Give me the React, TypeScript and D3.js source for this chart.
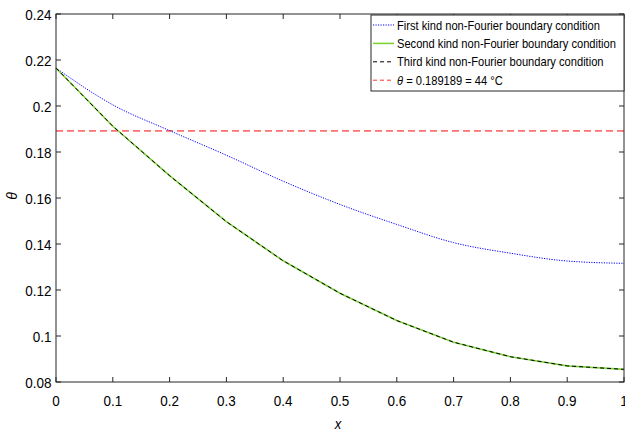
import React from "react";
import * as d3 from "d3";

const xValues = [0, 0.1, 0.2, 0.3, 0.4, 0.5, 0.6, 0.7, 0.8, 0.9, 1.0];
const firstKind = [0.2165, 0.2005, 0.1893, 0.1786, 0.1673, 0.1572, 0.1485, 0.1406, 0.136, 0.1326, 0.1316];
const secondKind = [0.2165, 0.1912, 0.1697, 0.1497, 0.1327, 0.1186, 0.1067, 0.0973, 0.091, 0.087, 0.0855];
const thirdKind = [0.2165, 0.1912, 0.1697, 0.1497, 0.1327, 0.1186, 0.1067, 0.0973, 0.091, 0.087, 0.0855];
const thetaLimit = 0.189189;
const xTicks = [0, 0.1, 0.2, 0.3, 0.4, 0.5, 0.6, 0.7, 0.8, 0.9, 1];
const yTicks = [0.08, 0.1, 0.12, 0.14, 0.16, 0.18, 0.2, 0.22, 0.24];
const legendLabels = [
  "First kind non-Fourier boundary condition",
  "Second kind non-Fourier boundary condition",
  "Third kind non-Fourier boundary condition",
];

const W = 625, H = 433;
const L = 56, R = 624, T = 14, B = 382;
const font = "'Liberation Sans', Arial, sans-serif";
const SX = 0.87;

export default function App() {
  const x = d3.scaleLinear().domain([0, 1]).range([L, R]);
  const y = d3.scaleLinear().domain([0.08, 0.24]).range([B, T]);
  const line = (vals: number[]) =>
    d3.line<number>().x((_, i) => x(xValues[i])).y((v) => y(v))(vals) || "";
  const lineSmooth = (vals: number[]) =>
    d3.line<number>().x((_, i) => x(xValues[i])).y((v) => y(v)).curve(d3.curveMonotoneX)(vals) || "";
  const tk = 5;
  const legX = 371, legY = 15, legW = R - legX, legH = 76;
  const rowY = (i: number) => legY + 10 + i * 18.4;
  const T2 = (px: number, py: number) => `translate(${px},${py}) scale(${SX},1)`;
  return (
    <svg width={W} height={H} style={{ position: "absolute", left: 0, top: 0, background: "#fff" }}>
      <rect x={0} y={0} width={W} height={H} fill="#fff" />
      {/* data */}
      <line x1={x(0)} x2={x(1)} y1={y(thetaLimit)} y2={y(thetaLimit)} stroke="#ff7070" strokeWidth={1.6} strokeDasharray="7,4" />
      <path d={lineSmooth(firstKind)} fill="none" stroke="#0000ff" strokeWidth={1} strokeDasharray="1.2,1.3" />
      <path d={line(secondKind)} fill="none" stroke="#7ed33a" strokeWidth={1.6} />
      <path d={line(thirdKind)} fill="none" stroke="#000" strokeWidth={1} strokeDasharray="4,3" />
      {/* axes box */}
      <rect x={L} y={T} width={R - L} height={B - T} fill="none" stroke="#262626" strokeWidth={1} />
      {xTicks.map((t) => (
        <g key={"x" + t}>
          <line x1={x(t)} x2={x(t)} y1={B} y2={B - tk} stroke="#262626" />
          <line x1={x(t)} x2={x(t)} y1={T} y2={T + tk} stroke="#262626" />
          <text transform={T2(x(t), 405.5)} textAnchor="middle" fontFamily={font} fontSize={15.5} fill="#000">
            {t}
          </text>
        </g>
      ))}
      {yTicks.map((t) => (
        <g key={"y" + t}>
          <line x1={L} x2={L + tk} y1={y(t)} y2={y(t)} stroke="#262626" />
          <line x1={R} x2={R - tk} y1={y(t)} y2={y(t)} stroke="#262626" />
          <text transform={T2(51.5, y(t) + 5.5)} textAnchor="end" fontFamily={font} fontSize={15.5} fill="#000">
            {+t.toFixed(2)}
          </text>
        </g>
      ))}
      <text transform={T2(338, 429)} textAnchor="middle" fontFamily={font} fontSize={15} fontStyle="italic">x</text>
      <text transform={`translate(17,196) rotate(-90)`} textAnchor="middle" fontFamily={font} fontSize={14} fontStyle="italic">θ</text>
      {/* legend */}
      <rect x={legX} y={legY} width={legW} height={legH} fill="#fff" stroke="#262626" strokeWidth={1} />
      <line x1={legX + 2} x2={legX + 23} y1={rowY(0)} y2={rowY(0)} stroke="#0000ff" strokeDasharray="1.2,1.3" />
      <line x1={legX + 2} x2={legX + 23} y1={rowY(1)} y2={rowY(1)} stroke="#7ed33a" strokeWidth={1.6} />
      <line x1={legX + 2} x2={legX + 23} y1={rowY(2)} y2={rowY(2)} stroke="#000" strokeDasharray="4,3" />
      <line x1={legX + 2} x2={legX + 23} y1={rowY(3)} y2={rowY(3)} stroke="#ff3030" strokeDasharray="4,3" />
      {legendLabels.map((s, i) => (
        <text key={s} transform={T2(legX + 26, rowY(i) + 4.5)} fontFamily={font} fontSize={12.8} fill="#000">{s}</text>
      ))}
      <text transform={T2(legX + 26, rowY(3) + 4.5)} fontFamily={font} fontSize={12.8} fill="#000">
        <tspan fontStyle="italic">θ</tspan> = 0.189189 = 44 °C
      </text>
    </svg>
  );
}
